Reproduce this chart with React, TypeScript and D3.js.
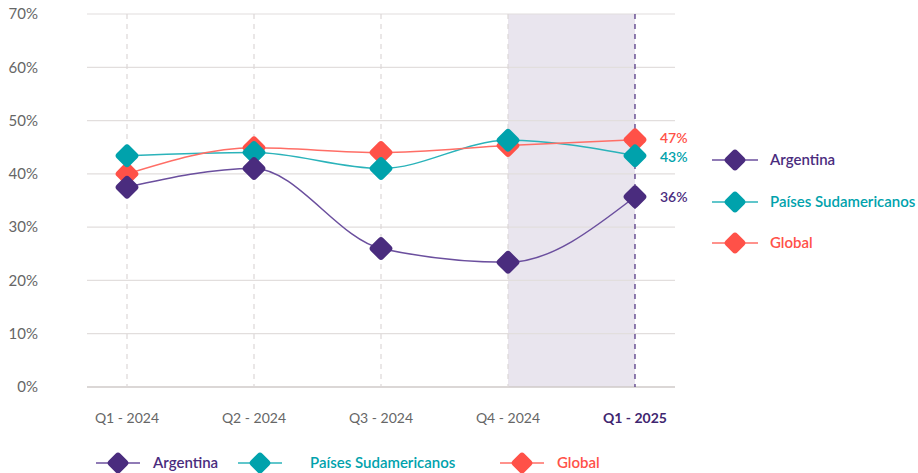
import React from "react";
import * as d3 from "d3";

const quarters = ["Q1 - 2024", "Q2 - 2024", "Q3 - 2024", "Q4 - 2024", "Q1 - 2025"];
const argentina = [37.5, 41, 26, 23.4, 35.7];
const paises = [43.4, 44, 41, 46.3, 43.4];
const global = [40, 44.9, 44, 45.3, 46.4];
const endLabels = ["36%", "43%", "47%"];
const yTicks = [0, 10, 20, 30, 40, 50, 60, 70];

const series = [
  { name: "Argentina", values: argentina, dot: "#4a2c7e", line: "#6b4f9e", label: endLabels[0], dy: 0 },
  { name: "Países Sudamericanos", values: paises, dot: "#00a2ac", line: "#2bb3ba", label: endLabels[1], dy: 1.5 },
  { name: "Global", values: global, dot: "#ff5148", line: "#ff6e66", label: endLabels[2], dy: -1.5 },
];

const W = 918;
const H = 473;
const left = 87;
const right = 675;
const top = 14;
const bottom = 387;
const font = "Lato, 'Noto Sans', sans-serif";

const Diamond = ({ x, y, r, fill }: { x: number; y: number; r: number; fill: string }) => (
  <rect
    x={x - r * 0.72}
    y={y - r * 0.72}
    width={r * 1.44}
    height={r * 1.44}
    rx={3.5}
    fill={fill}
    transform={`rotate(45 ${x} ${y})`}
  />
);

export default function App() {
  const x = d3.scalePoint<string>().domain(quarters).range([left, right]).padding(0.315);
  const y = d3.scaleLinear().domain([0, 70]).range([bottom, top]);
  const line = d3
    .line<number>()
    .x((_, i) => x(quarters[i]) as number)
    .y((d) => y(d))
    .curve(d3.curveMonotoneX);

  const last = quarters[quarters.length - 1];
  const prev = quarters[quarters.length - 2];

  const rightLegendY = [160, 202, 243];
  const bottomLegendX = [96, 238, 500];

  return (
    <svg width={W} height={H} style={{ position: "absolute", left: 0, top: 0, fontFamily: font }}>
      {/* highlighted quarter */}
      <rect x={x(prev)} y={top} width={(x(last) as number) - (x(prev) as number)} height={bottom - top} fill="#e9e5ee" />

      {/* horizontal grid */}
      {yTicks.map((t) => (
        <g key={t}>
          {t > 0 && <line x1={left} x2={right} y1={y(t)} y2={y(t)} stroke="#e2dedd" strokeWidth={1.2} />}
          <text x={38} y={y(t)} dy="0.35em" textAnchor="end" fontSize={15} fill="#666">
            {t}%
          </text>
        </g>
      ))}
      <line x1={left} x2={right} y1={bottom} y2={bottom} stroke="#cfcac9" strokeWidth={1.5} />

      {/* vertical dashed lines */}
      {quarters.map((q, i) => (
        <line
          key={q}
          x1={x(q)}
          x2={x(q)}
          y1={top}
          y2={bottom}
          stroke={i === quarters.length - 1 ? "#4a2c7e" : "#dcd8d8"}
          strokeDasharray="5,5"
          strokeWidth={1.2}
        />
      ))}

      {/* x labels */}
      {quarters.map((q, i) => (
        <text
          key={q}
          x={x(q)}
          y={418}
          dy="0.35em"
          textAnchor="middle"
          fontSize={14}
          fontWeight={i === quarters.length - 1 ? 700 : 400}
          fill={i === quarters.length - 1 ? "#3f2670" : "#666"}
        >
          {q}
        </text>
      ))}

      {/* lines */}
      {series.map((s) => (
        <path key={s.name} d={line(s.values) || ""} fill="none" stroke={s.line} strokeWidth={1.5} />
      ))}
      {series
        .slice()
        .reverse()
        .map((s) =>
          s.values.map((v, i) => <Diamond key={s.name + i} x={x(quarters[i]) as number} y={y(v)} r={12.5} fill={s.dot} />)
        )}

      {/* end labels */}
      {series.map((s) => (
        <text
          key={s.name}
          x={660}
          y={y(s.values[s.values.length - 1]) + s.dy}
          dy="0.35em"
          fontSize={14}
          fontWeight={600}
          fill={s.dot}
        >
          {s.label}
        </text>
      ))}

      {/* right legend */}
      {series.map((s, i) => (
        <g key={s.name} transform={`translate(712,${rightLegendY[i]})`}>
          <line x1={0} x2={46} y1={0} y2={0} stroke={s.line} strokeWidth={1.5} />
          <Diamond x={23} y={0} r={11.5} fill={s.dot} />
          <text x={58} y={0} dy="0.35em" fontSize={15} fontWeight={600} fill={s.dot}>
            {s.name}
          </text>
        </g>
      ))}

      {/* bottom legend */}
      {series.map((s, i) => (
        <g key={s.name} transform={`translate(${bottomLegendX[i]},463)`}>
          <line x1={0} x2={44} y1={0} y2={0} stroke={s.line} strokeWidth={1.5} />
          <Diamond x={22} y={0} r={11.5} fill={s.dot} />
          <text x={i === 1 ? 72 : 57} y={0} dy="0.35em" fontSize={15} fontWeight={600} fill={s.dot}>
            {s.name}
          </text>
        </g>
      ))}
    </svg>
  );
}
